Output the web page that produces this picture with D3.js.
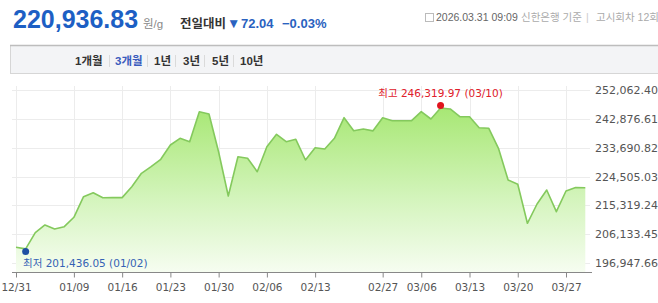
<html>
<head>
  <meta charset="utf-8">
  <script src="https://d3js.org/d3.v7.min.js"></script>
  <style>
    body { margin: 0; background: #fff; }
    svg text { font-family: "DejaVu Sans", Verdana, sans-serif; }
    .kr { font-family: "Liberation Sans", "Noto Sans CJK KR", sans-serif; }
    .lbl { font-family: "DejaVu Sans", "Noto Sans CJK KR", sans-serif; }
  </style>
</head>
<body>
<script>
// trading days shown on the 3-month chart
var dates = ["12/31","01/02","01/05","01/06","01/07","01/08","01/09","01/12","01/13","01/14",
             "01/15","01/16","01/19","01/20","01/21","01/22","01/23","01/26","01/27","01/28",
             "01/29","01/30","02/02","02/03","02/04","02/05","02/06","02/09","02/10","02/11",
             "02/12","02/13","02/19","02/20","02/23","02/24","02/25","02/26","02/27","03/03",
             "03/04","03/05","03/06","03/09","03/10","03/11","03/12","03/13","03/16","03/17",
             "03/18","03/19","03/20","03/23","03/24","03/25","03/26","03/27","03/30","03/31"];

// gold price, won per gram
var prices = [201950, 201436.05, 206600, 209055, 207780, 208513, 211508, 218071, 219346, 217753,
              217760, 217770, 221257, 225526, 227629, 229987, 234543, 236677, 235594, 245152,
              244419, 232313, 218294, 230815, 230305, 226036, 234001, 237951, 235594, 236359,
              229764, 233683, 233268, 236677, 243241, 239099, 239640, 239050, 243241, 242285,
              242285, 242280, 245152, 242826, 246319.97, 246012, 243559, 243540, 240055, 239863,
              233491, 223392, 222022, 209596, 215745, 220206, 213292, 219887, 221008.87, 220936.83];

var xTicks = ["12/31","01/09","01/16","01/23","01/30","02/06","02/13","02/27","03/06","03/13","03/20","03/27"];
var yTicks = [196947.66, 206133.45, 215319.24, 224505.03, 233690.82, 242876.61, 252062.40];
var tabs = ["1개월", "3개월", "1년", "3년", "5년", "10년"];

var width = 658, height = 303;

var svg = d3.select("body").append("svg")
    .attr("width", width)
    .attr("height", height);

// ---- header ----
var head = svg.append("text").attr("y", 28).attr("class", "kr");
head.append("tspan").attr("x", 13)
    .style("font-family", "Liberation Sans, Arial, sans-serif")
    .attr("font-size", 25).attr("font-weight", "bold").attr("fill", "#1d5fc4")
    .text("220,936.83");
head.append("tspan").attr("x", 143).attr("font-size", 11.5).attr("fill", "#888").text("원/g");
head.append("tspan").attr("x", 180).attr("font-size", 12.5).attr("font-weight", "bold").attr("fill", "#333").text("전일대비");
head.append("tspan").attr("x", 227).attr("font-size", 13.5).attr("font-weight", "bold").attr("fill", "#2a62c0").text("▼");
head.append("tspan").attr("x", 241).attr("font-size", 13).attr("font-weight", "bold").attr("fill", "#2a62c0").text("72.04");
head.append("tspan").attr("x", 282).attr("font-size", 13).attr("font-weight", "bold").attr("fill", "#2a62c0").text("−0.03%");

var info = svg.append("text").attr("y", 21).attr("class", "kr").attr("font-size", 10.5);
info.append("tspan").attr("x", 436).attr("fill", "#666").text("2026.03.31 09:09");
info.append("tspan").attr("x", 521).attr("fill", "#aaa").text("신한은행 기준");
info.append("tspan").attr("x", 586).attr("fill", "#ccc").text("|");
info.append("tspan").attr("x", 596).attr("fill", "#aaa").text("고시회차 12회");
svg.append("rect").attr("x", 425.5).attr("y", 13.5).attr("width", 8).attr("height", 8)
    .attr("fill", "none").attr("stroke", "#bbb");

// ---- period tabs ----
svg.append("rect").attr("x", 10.5).attr("y", 45.5).attr("width", 660).attr("height", 28)
    .attr("fill", "#f3f4f6").attr("stroke", "#d6d6d6");
svg.append("line").attr("x1", 10).attr("x2", 658).attr("y1", 45.5).attr("y2", 45.5)
    .attr("stroke", "#bdbdbd").attr("stroke-width", 1.5);
var tabX = [75, 115, 154, 183, 212, 240];
var sepX = [109, 147, 175, 204, 233];
svg.selectAll(".tab").data(tabs).enter().append("text")
    .attr("class", "kr")
    .attr("x", function(d, i) { return tabX[i]; })
    .attr("y", 65)
    .attr("font-size", 11.5).attr("font-weight", "bold")
    .attr("fill", function(d, i) { return i == 1 ? "#3a5bbd" : "#333"; })
    .text(function(d) { return d; });
svg.selectAll(".sep").data(sepX).enter().append("line")
    .attr("x1", function(d) { return d + 0.5; }).attr("x2", function(d) { return d + 0.5; })
    .attr("y1", 55).attr("y2", 67).attr("stroke", "#dadada");

// ---- chart ----
var x = d3.scalePoint().domain(dates).range([16, 585.3]);
var y = d3.scaleLinear().domain([yTicks[0], yTicks[yTicks.length - 1]]).range([263, 90]);
var baseY = 272.5;

var grid = svg.append("g");
grid.selectAll(".hg").data(yTicks).enter().append("line")
    .attr("x1", 12).attr("x2", 590)
    .attr("y1", function(d) { return Math.round(y(d)) + 0.5; })
    .attr("y2", function(d) { return Math.round(y(d)) + 0.5; })
    .attr("stroke", "#ececec");
grid.selectAll(".vg").data(xTicks).enter().append("line")
    .attr("x1", function(d) { return Math.round(x(d)) + 0.5; })
    .attr("x2", function(d) { return Math.round(x(d)) + 0.5; })
    .attr("y1", 86).attr("y2", baseY)
    .attr("stroke", "#ececec");

var defs = svg.append("defs");
var grad = defs.append("linearGradient").attr("id", "fillg")
    .attr("gradientUnits", "userSpaceOnUse")
    .attr("x1", 0).attr("x2", 0).attr("y1", 105).attr("y2", baseY);
grad.append("stop").attr("offset", 0).attr("stop-color", "#a6e772");
grad.append("stop").attr("offset", 0.55).attr("stop-color", "#d3f4bb");
grad.append("stop").attr("offset", 1).attr("stop-color", "#f6fdf1");

var area = d3.area()
    .x(function(d, i) { return x(dates[i]); })
    .y0(baseY)
    .y1(function(d) { return y(d); });
var line = d3.line()
    .x(function(d, i) { return x(dates[i]); })
    .y(function(d) { return y(d); });

svg.append("path").datum(prices).attr("d", area).attr("fill", "url(#fillg)");
svg.append("path").datum(prices).attr("d", line)
    .attr("fill", "none").attr("stroke", "#84c95d").attr("stroke-width", 1.6)
    .attr("stroke-linejoin", "round");

// x axis
var xAxis = d3.axisBottom(x).tickValues(xTicks).tickSize(5).tickPadding(6);
var gx = svg.append("g").attr("transform", "translate(0," + baseY + ")").call(xAxis);
gx.select(".domain").attr("d", "M12,0H592").attr("stroke", "#888");
gx.selectAll(".tick line").attr("stroke", "#888");
gx.selectAll(".tick text").attr("font-size", 10.5).attr("fill", "#555")
    .style("font-family", "DejaVu Sans, Verdana, sans-serif");

// y labels on the right
var yAxis = d3.axisRight(y).tickValues(yTicks).tickSize(0).tickPadding(0)
    .tickFormat(d3.format(",.2f"));
var gy = svg.append("g").attr("transform", "translate(595,0)").call(yAxis);
gy.select(".domain").remove();
gy.selectAll(".tick text").attr("font-size", 11).attr("fill", "#555")
    .style("font-family", "DejaVu Sans, Verdana, sans-serif");

// max / min markers
var iMax = d3.maxIndex(prices), iMin = d3.minIndex(prices);
var fmt = d3.format(",.2f");
svg.append("circle").attr("cx", x(dates[iMax])).attr("cy", y(prices[iMax]) - 2.5)
    .attr("r", 3.5).attr("fill", "#e0141e");
svg.append("text").attr("class", "lbl")
    .attr("x", x(dates[iMax])).attr("y", 97)
    .attr("text-anchor", "middle").attr("font-size", 10.5).attr("fill", "#e0202a")
    .text("최고 " + fmt(prices[iMax]) + " (" + dates[iMax] + ")");
svg.append("circle").attr("cx", x(dates[iMin])).attr("cy", y(prices[iMin]) + 2.5)
    .attr("r", 3.5).attr("fill", "#1f4fa3");
svg.append("text").attr("class", "lbl")
    .attr("x", 23).attr("y", 267)
    .attr("font-size", 10.5).attr("fill", "#3563b5")
    .text("최저 " + fmt(prices[iMin]) + " (" + dates[iMin] + ")");
</script>
</body>
</html>
